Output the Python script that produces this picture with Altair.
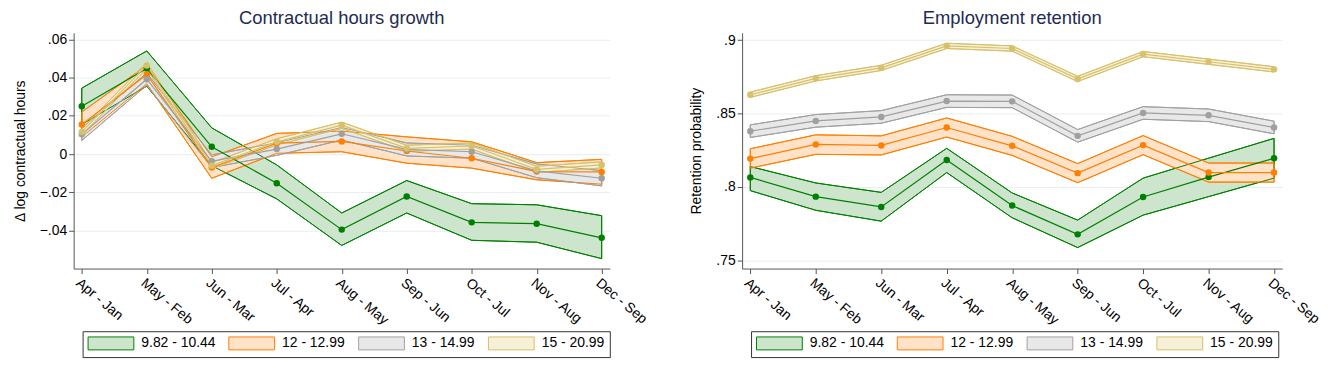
import altair as alt
import pandas as pd

periods = ["Apr - Jan", "May - Feb", "Jun - Mar", "Jul - Apr", "Aug - May",
           "Sep - Jun", "Oct - Jul", "Nov - Aug", "Dec - Sep"]
groups = ["9.82 - 10.44", "12 - 12.99", "13 - 14.99", "15 - 20.99"]

line_colors = ["#008000", "#ff7f00", "#a0a0a0", "#d8c16b"]
fill_colors = ["#cde5cd", "#ffe2c8", "#e8e8e8", "#f6f0d8"]

# Panel 1: contractual hours growth (estimate, lower CI, upper CI)
hours_est = {
    "9.82 - 10.44": [0.0250, 0.0448, 0.0038, -0.0153, -0.0396, -0.0222, -0.0358, -0.0365, -0.0439],
    "12 - 12.99":   [0.0155, 0.0417, -0.0071, 0.0057, 0.0066, 0.0016, -0.0022, -0.0092, -0.0094],
    "13 - 14.99":   [0.0103, 0.0392, -0.0038, 0.0026, 0.0106, 0.0024, 0.0012, -0.0088, -0.0127],
    "15 - 20.99":   [0.0116, 0.0464, -0.0061, 0.0064, 0.0151, 0.0030, 0.0042, -0.0080, -0.0057],
}
hours_lo = {
    "9.82 - 10.44": [0.0155, 0.0356, -0.0061, -0.0235, -0.0479, -0.0309, -0.0452, -0.0462, -0.0548],
    "12 - 12.99":   [0.0090, 0.0368, -0.0127, 0.0004, 0.0012, -0.0048, -0.0074, -0.0135, -0.0158],
    "13 - 14.99":   [0.0071, 0.0360, -0.0071, -0.0007, 0.0073, -0.0010, -0.0022, -0.0124, -0.0167],
    "15 - 20.99":   [0.0100, 0.0448, -0.0077, 0.0048, 0.0135, 0.0014, 0.0026, -0.0096, -0.0073],
}
hours_hi = {
    "9.82 - 10.44": [0.0345, 0.0540, 0.0137, -0.0057, -0.0309, -0.0139, -0.0260, -0.0266, -0.0323],
    "12 - 12.99":   [0.0220, 0.0465, -0.0015, 0.0108, 0.0120, 0.0090, 0.0064, -0.0045, -0.0028],
    "13 - 14.99":   [0.0135, 0.0424, -0.0005, 0.0059, 0.0139, 0.0058, 0.0046, -0.0052, -0.0087],
    "15 - 20.99":   [0.0132, 0.0480, -0.0045, 0.0080, 0.0167, 0.0046, 0.0058, -0.0064, -0.0041],
}

# Panel 2: employment retention (estimate, lower CI, upper CI)
ret_est = {
    "9.82 - 10.44": [0.8065, 0.7934, 0.7864, 0.8184, 0.7873, 0.7677, 0.7932, 0.8067, 0.8195],
    "12 - 12.99":   [0.8193, 0.8290, 0.8283, 0.8405, 0.8280, 0.8094, 0.8285, 0.8098, 0.8098],
    "13 - 14.99":   [0.8380, 0.8450, 0.8477, 0.8585, 0.8583, 0.8348, 0.8504, 0.8488, 0.8405],
    "15 - 20.99":   [0.8628, 0.8740, 0.8811, 0.8961, 0.8943, 0.8736, 0.8905, 0.8853, 0.8801],
}
ret_lo = {
    "9.82 - 10.44": [0.7975, 0.7841, 0.7767, 0.8098, 0.7790, 0.7587, 0.7808, 0.7934, 0.8060],
    "12 - 12.99":   [0.8128, 0.8222, 0.8218, 0.8340, 0.8215, 0.8029, 0.8220, 0.8033, 0.8033],
    "13 - 14.99":   [0.8337, 0.8407, 0.8434, 0.8542, 0.8540, 0.8305, 0.8461, 0.8445, 0.8362],
    "15 - 20.99":   [0.8610, 0.8722, 0.8793, 0.8943, 0.8925, 0.8718, 0.8887, 0.8835, 0.8783],
}
ret_hi = {
    "9.82 - 10.44": [0.8139, 0.8027, 0.7963, 0.8263, 0.7959, 0.7774, 0.8060, 0.8196, 0.8331],
    "12 - 12.99":   [0.8260, 0.8355, 0.8348, 0.8470, 0.8345, 0.8159, 0.8350, 0.8163, 0.8163],
    "13 - 14.99":   [0.8423, 0.8493, 0.8520, 0.8628, 0.8626, 0.8391, 0.8547, 0.8531, 0.8448],
    "15 - 20.99":   [0.8646, 0.8758, 0.8829, 0.8979, 0.8961, 0.8754, 0.8923, 0.8871, 0.8819],
}

hours_ticks = [-0.04, -0.02, 0, 0.02, 0.04, 0.06]
ret_ticks = [0.75, 0.8, 0.85, 0.9]

FONT = "Liberation Sans"


def make_df(est, lo, hi):
    rows = []
    for g in groups:
        for i, p in enumerate(periods):
            rows.append({"period": p, "group": g, "est": est[g][i],
                         "lo": lo[g][i], "hi": hi[g][i]})
    return pd.DataFrame(rows)


def panel(df, title, ytitle, domain, ticks, width):
    x = alt.X("period:N", sort=periods,
              scale=alt.Scale(type="point", padding=0.125),
              axis=alt.Axis(title=None, labelAngle=40, labelAlign="left",
                            labelBaseline="top", labelPadding=2, grid=False))
    yscale = alt.Scale(domain=domain, nice=False, zero=False)
    yaxis = alt.Axis(title=ytitle, values=ticks,
                     labelExpr="replace(format(datum.value, '.2~f'), '0.', '.')",
                     titlePadding=12, grid=True)
    legend = alt.Legend(title=None, orient="none", legendX=9, legendY=300,
                        direction="horizontal",
                        symbolType="M-1,-1H6.077V1H-1Z", symbolSize=169,
                        symbolStrokeWidth=1, labelOffset=40, columnPadding=10.5,
                        padding=5, strokeColor="#333333", fillColor="white",
                        labelFontSize=14, labelFont=FONT, labelColor="black")
    fill_scale = alt.Scale(domain=groups, range=fill_colors)
    stroke_scale = alt.Scale(domain=groups, range=line_colors)
    base = alt.Chart(df)
    area = base.mark_area(strokeWidth=1, opacity=1).encode(
        x=x,
        y=alt.Y("lo:Q", scale=yscale, axis=yaxis, stack=None),
        y2="hi:Q",
        fill=alt.Fill("group:N", scale=fill_scale, sort=groups, legend=legend),
        stroke=alt.Stroke("group:N", scale=stroke_scale, sort=groups, legend=legend),
    )
    outline = base.mark_area(strokeWidth=1, fillOpacity=0).encode(
        x=x,
        y=alt.Y("lo:Q", scale=yscale, stack=None),
        y2="hi:Q",
        stroke=alt.Stroke("group:N", scale=stroke_scale, sort=groups, legend=None),
    )
    line = base.mark_line(strokeWidth=1.2).encode(
        x=x,
        y=alt.Y("est:Q", scale=yscale),
        color=alt.Color("group:N", scale=stroke_scale, sort=groups, legend=None),
    )
    pts = base.mark_circle(size=42, opacity=1).encode(
        x=x,
        y=alt.Y("est:Q", scale=yscale),
        color=alt.Color("group:N", scale=stroke_scale, sort=groups, legend=None),
    )
    return alt.layer(area, outline, line, pts).properties(
        width=width, height=237,
        title=alt.TitleParams(title, fontSize=18.5, font=FONT, color="#1e2b50",
                              fontWeight="normal", anchor="middle", offset=5),
    )


left = panel(make_df(hours_est, hours_lo, hours_hi), "Contractual hours growth",
             "\u0394 log contractual hours", [-0.06, 0.0635], hours_ticks, 539)
right = panel(make_df(ret_est, ret_lo, ret_hi), "Employment retention",
              "Retention probability", [0.7444, 0.905], ret_ticks, 543)

chart = alt.hconcat(left, right, spacing=40).resolve_scale(
    y="independent", fill="independent", stroke="independent", color="independent"
).properties(
    padding={"left": 5, "top": 0, "right": 5, "bottom": 5}
).configure_view(stroke=None).configure_axis(
    domainColor="#555555", tickColor="#555555", tickSize=5,
    gridColor="#e6eff0", gridWidth=1,
    labelFont=FONT, labelFontSize=14, labelColor="black",
    titleFont=FONT, titleFontSize=14, titleColor="black", titleFontWeight="normal",
)

chart.save("out.html", embed_options={"renderer": "svg", "actions": False})
